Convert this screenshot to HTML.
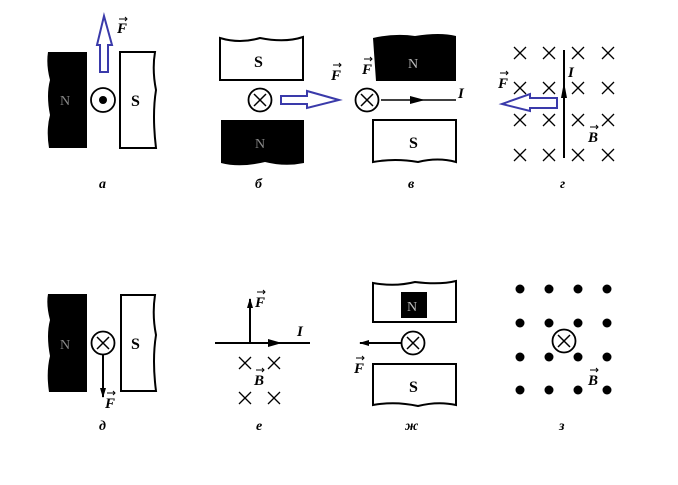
<!DOCTYPE html>
<html><head><meta charset="utf-8"><style>
html,body{margin:0;padding:0;background:#fff;width:678px;height:485px;overflow:hidden}
text{font-family:"Liberation Serif",serif}
.l{font-style:italic;font-weight:bold;font-size:15px}
.cap{font-style:italic;font-weight:bold;font-size:14px}
</style></head><body>
<svg width="678" height="485" viewBox="0 0 678 485" xmlns="http://www.w3.org/2000/svg">
<defs>
<marker id="ah" markerWidth="10" markerHeight="8" refX="9" refY="4" orient="auto" markerUnits="userSpaceOnUse"><path d="M0,1 L10,4 L0,7 Z" fill="#000"/></marker>
<g id="x"><path d="M-6,-6 L6,6 M-6,6 L6,-6" stroke="#000" stroke-width="1.3"/></g>
<g id="cx"><circle r="11.5" fill="#fff" stroke="#000" stroke-width="1.8"/><path d="M-6,-6 L6,6 M-6,6 L6,-6" stroke="#000" stroke-width="1.5"/></g>
</defs>

<!-- a -->
<path d="M48,52 L87,52 L87,148 L49,148 Q46,130 50,115 Q46,95 50,80 Q46,65 48,52Z" fill="#000"/>
<text x="60" y="105" fill="#888" font-size="14">N</text>
<circle cx="103" cy="100" r="12" fill="#fff" stroke="#000" stroke-width="1.8"/>
<circle cx="103" cy="100" r="4" fill="#000"/>
<path d="M120,52 L155,52 Q152,70 156,90 Q152,115 156,148 L120,148Z" fill="#fff" stroke="#000" stroke-width="2"/>
<text x="131" y="106" font-size="16" font-weight="bold">S</text>
<path d="M100,72 L108,72 L108,45 L112,45 L104,16 L97,45 L100,45Z" fill="none" stroke="#3a3aaa" stroke-width="2"/>
<text class="l" x="117" y="33">F</text><path d="M119,19 L127,19 M125,17 L127,19 L125,21" stroke="#000" fill="none" stroke-width="1"/>
<text class="cap" x="99" y="188">а</text>

<!-- б -->
<path d="M220,38 Q240,44 260,38 Q285,43 303,37 L303,80 L220,80Z" fill="#fff" stroke="#000" stroke-width="2"/>
<text x="254" y="67" font-size="16" font-weight="bold">S</text>
<use href="#cx" x="260" y="100"/>
<path d="M221,120 L304,120 L304,163 Q285,167 265,162 Q240,168 221,163Z" fill="#000"/>
<text x="255" y="148" fill="#888" font-size="14">N</text>
<path d="M281,96 L307,96 L307,91 L339,100 L307,108 L307,104 L281,104Z" fill="none" stroke="#3a3aaa" stroke-width="2"/>
<text class="cap" x="255" y="188">б</text>

<!-- в -->
<text class="l" x="331" y="80">F</text><path d="M333,65 L341,65 M339,63 L341,65 L339,67" stroke="#000" fill="none" stroke-width="1"/>
<text class="l" x="362" y="74">F</text><path d="M364,59 L372,59 M370,57 L372,59 L370,61" stroke="#000" fill="none" stroke-width="1"/>
<path d="M373,38 Q395,33 415,36 Q440,32 456,36 L456,81 L376,81Z" fill="#000"/>
<text x="408" y="68" fill="#bbb" font-size="14">N</text>
<use href="#cx" x="367" y="100"/>
<line x1="381" y1="100" x2="456" y2="100" stroke="#000" stroke-width="1.5"/>
<path d="M410,96 L425,100 L410,104Z" fill="#000"/>
<text class="l" x="458" y="98">I</text>
<path d="M373,120 L456,120 L456,162 Q438,157 418,162 Q395,158 373,162Z" fill="#fff" stroke="#000" stroke-width="2"/>
<text x="409" y="148" font-size="16" font-weight="bold">S</text>
<text class="cap" x="408" y="188">в</text>

<!-- г -->
<use href="#x" x="520" y="53"/><use href="#x" x="549" y="53"/><use href="#x" x="578" y="53"/><use href="#x" x="608" y="53"/>
<use href="#x" x="520" y="88"/><use href="#x" x="549" y="88"/><use href="#x" x="578" y="88"/><use href="#x" x="608" y="88"/>
<use href="#x" x="520" y="120"/><use href="#x" x="549" y="120"/><use href="#x" x="578" y="120"/><use href="#x" x="608" y="120"/>
<use href="#x" x="520" y="155"/><use href="#x" x="549" y="155"/><use href="#x" x="578" y="155"/><use href="#x" x="608" y="155"/>
<line x1="564" y1="50" x2="564" y2="158" stroke="#000" stroke-width="2"/>
<path d="M561,98 L564,82 L567,98Z" fill="#000"/>
<text class="l" x="568" y="77">I</text>
<text class="l" x="588" y="142">B</text><path d="M590,127 L598,127 M596,125 L598,127 L596,129" stroke="#000" fill="none" stroke-width="1"/>
<path d="M557,98 L530,98 L530,94 L502,104 L530,111 L530,108 L557,108Z" fill="#fff" stroke="#3a3aaa" stroke-width="2"/>
<text class="l" x="498" y="88">F</text><path d="M500,73 L508,73 M506,71 L508,73 L506,75" stroke="#000" fill="none" stroke-width="1"/>
<text class="cap" x="560" y="188">г</text>

<!-- д -->
<path d="M48,294 L87,294 L87,392 L49,392 Q46,372 50,356 Q46,335 50,320 Q46,305 48,294Z" fill="#000"/>
<text x="60" y="349" fill="#888" font-size="14">N</text>
<use href="#cx" x="103" y="343"/>
<line x1="103" y1="355" x2="103" y2="397" stroke="#000" stroke-width="2" marker-end="url(#ah)"/>
<text class="l" x="105" y="408">F</text><path d="M107,393 L115,393 M113,391 L115,393 L113,395" stroke="#000" fill="none" stroke-width="1"/>
<path d="M121,295 L155,295 Q152,315 156,335 Q152,360 156,391 L121,391Z" fill="#fff" stroke="#000" stroke-width="2"/>
<text x="131" y="349" font-size="16" font-weight="bold">S</text>
<text class="cap" x="99" y="430">д</text>

<!-- е -->
<line x1="215" y1="343" x2="310" y2="343" stroke="#000" stroke-width="2"/>
<path d="M268,339 L282,343 L268,347Z" fill="#000"/>
<line x1="250" y1="343" x2="250" y2="299" stroke="#000" stroke-width="2" marker-end="url(#ah)"/>
<text class="l" x="255" y="307">F</text><path d="M257,292 L265,292 M263,290 L265,292 L263,294" stroke="#000" fill="none" stroke-width="1"/>
<text class="l" x="297" y="336">I</text>
<use href="#x" x="245" y="363"/><use href="#x" x="274" y="363"/><use href="#x" x="245" y="398"/><use href="#x" x="274" y="398"/>
<text class="l" x="254" y="385">B</text><path d="M256,370 L264,370 M262,368 L264,370 L262,372" stroke="#000" fill="none" stroke-width="1"/>
<text class="cap" x="256" y="430">е</text>

<!-- ж -->
<path d="M373,283 Q395,287 415,282 Q440,285 456,281 L456,322 L373,322Z" fill="#fff" stroke="#000" stroke-width="2"/>
<rect x="401" y="292" width="26" height="26" fill="#000"/>
<text x="407" y="311" fill="#bbb" font-size="14">N</text>
<use href="#cx" x="413" y="343"/>
<line x1="401" y1="343" x2="360" y2="343" stroke="#000" stroke-width="2" marker-end="url(#ah)"/>
<text class="l" x="354" y="373">F</text><path d="M356,358 L364,358 M362,356 L364,358 L362,360" stroke="#000" fill="none" stroke-width="1"/>
<path d="M373,364 L456,364 L456,405 Q438,401 418,406 Q395,401 373,405Z" fill="#fff" stroke="#000" stroke-width="2"/>
<text x="409" y="392" font-size="16" font-weight="bold">S</text>
<text class="cap" x="405" y="430">ж</text>

<!-- з -->
<g fill="#000">
<circle cx="520" cy="289" r="4.5"/><circle cx="549" cy="289" r="4.5"/><circle cx="578" cy="289" r="4.5"/><circle cx="607" cy="289" r="4.5"/>
<circle cx="520" cy="323" r="4.5"/><circle cx="549" cy="323" r="4.5"/><circle cx="578" cy="323" r="4.5"/><circle cx="607" cy="323" r="4.5"/>
<circle cx="520" cy="357" r="4.5"/><circle cx="549" cy="357" r="4.5"/><circle cx="578" cy="357" r="4.5"/><circle cx="607" cy="357" r="4.5"/>
<circle cx="520" cy="390" r="4.5"/><circle cx="549" cy="390" r="4.5"/><circle cx="578" cy="390" r="4.5"/><circle cx="607" cy="390" r="4.5"/>
</g>
<use href="#cx" x="564" y="341"/>
<text class="l" x="588" y="385">B</text><path d="M590,370 L598,370 M596,368 L598,370 L596,372" stroke="#000" fill="none" stroke-width="1"/>
<text class="cap" x="559" y="430">з</text>
</svg>
</body></html>
